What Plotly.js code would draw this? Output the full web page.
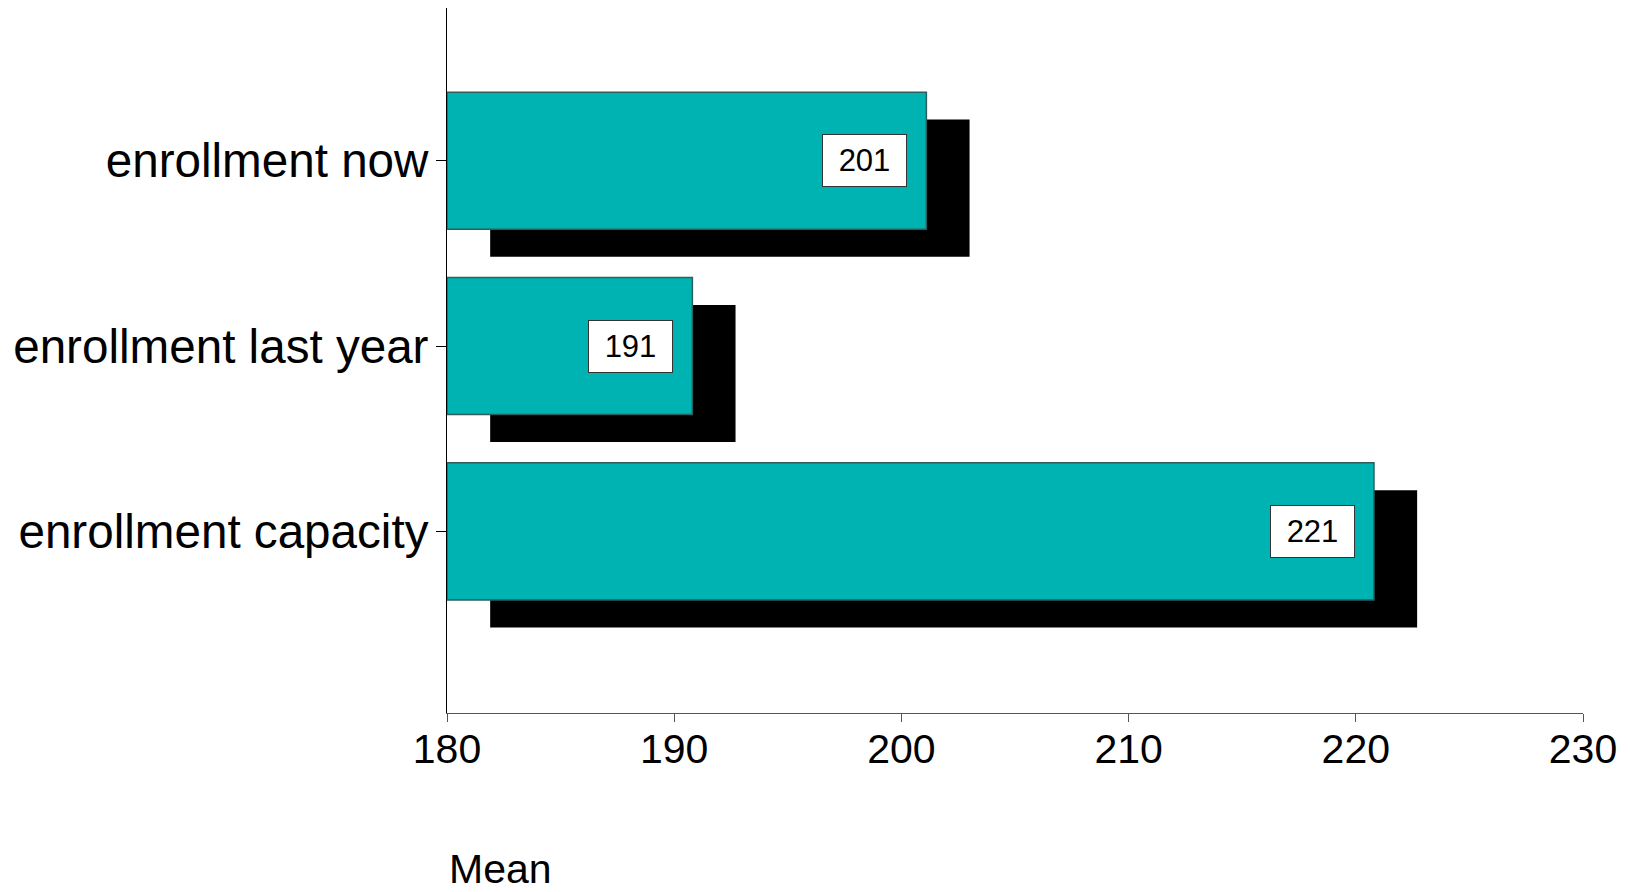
<!DOCTYPE html>
<html>
<head>
<meta charset="utf-8">
<script src="https://cdn.plot.ly/plotly-3.0.1.min.js"></script>
<style>html,body{margin:0;padding:0;background:#fff;}#chart{width:1630px;height:892px;}</style>
</head>
<body>
<div id="chart"></div>
<script>
// Data
const categories = ["enrollment now", "enrollment last year", "enrollment capacity"];
const meanValues = [201.1, 190.8, 220.8];
const valueLabels = ["201", "191", "221"];
const xTickValues = [180, 190, 200, 210, 220, 230];
const axisTitle = "Mean";

// Style constants
const baseValue = 180;
const shadowShiftX = 1.9;     // data units
const shadowShiftY = 0.148;   // category units
const barWidth = 0.74;
const FONT = "Liberation Sans, Arial, sans-serif";

const lengths = meanValues.map(v => v - baseValue);

const shadow = {
  type: "bar", orientation: "h",
  y: categories, x: lengths,
  base: categories.map(() => baseValue + shadowShiftX),
  width: barWidth, offset: -barWidth / 2 - shadowShiftY,
  marker: {color: "#000000", line: {width: 0}},
  hoverinfo: "skip", showlegend: false
};
const main = {
  type: "bar", orientation: "h",
  y: categories, x: lengths,
  base: categories.map(() => baseValue),
  width: barWidth, offset: -barWidth / 2,
  marker: {color: "#00B3B3", line: {color: "#2E5E5E", width: 1.5}},
  hoverinfo: "skip", showlegend: false
};

const annotations = categories.map((c, i) => ({
  x: meanValues[i], y: c, xref: "x", yref: "y",
  xanchor: "right", yanchor: "middle", xshift: -19,
  text: valueLabels[i], showarrow: false,
  font: {family: FONT, size: 31, color: "#000"},
  bgcolor: "#ffffff", bordercolor: "#333333", borderwidth: 1, borderpad: 0,
  width: 83, height: 51, align: "center", valign: "middle"
}));
annotations.push({
  xref: "paper", yref: "paper", x: 0, y: 0, xanchor: "left", yanchor: "top",
  yshift: -131, text: axisTitle, showarrow: false,
  font: {family: FONT, size: 41, color: "#000"}
});

const layout = {
  width: 1630, height: 892,
  margin: {l: 447, r: 47, t: 8, b: 179},
  paper_bgcolor: "#ffffff", plot_bgcolor: "#ffffff",
  barmode: "overlay",
  xaxis: {
    range: [180, 230], tickvals: xTickValues, ticktext: xTickValues.map(String),
    showgrid: false, zeroline: false, showline: true, linecolor: "#555555", linewidth: 1,
    ticks: "outside", ticklen: 8, tickcolor: "#555555", tickwidth: 1, ticklabelstandoff: -8,
    tickfont: {family: FONT, size: 41, color: "#000"}, fixedrange: true
  },
  yaxis: {
    type: "category", categoryorder: "array", categoryarray: categories.slice().reverse(),
    range: [-0.98, 2.824],
    showgrid: false, zeroline: false, showline: true, linecolor: "#000000", linewidth: 1,
    ticks: "outside", ticklen: 10, tickcolor: "#000", tickwidth: 1, ticklabelstandoff: -2,
    tickfont: {family: FONT, size: 47.6, color: "#000"}, fixedrange: true
  },
  annotations: annotations,
  font: {family: FONT}
};

Plotly.newPlot("chart", [shadow, main], layout, {displayModeBar: false, staticPlot: true});
</script>
</body>
</html>
